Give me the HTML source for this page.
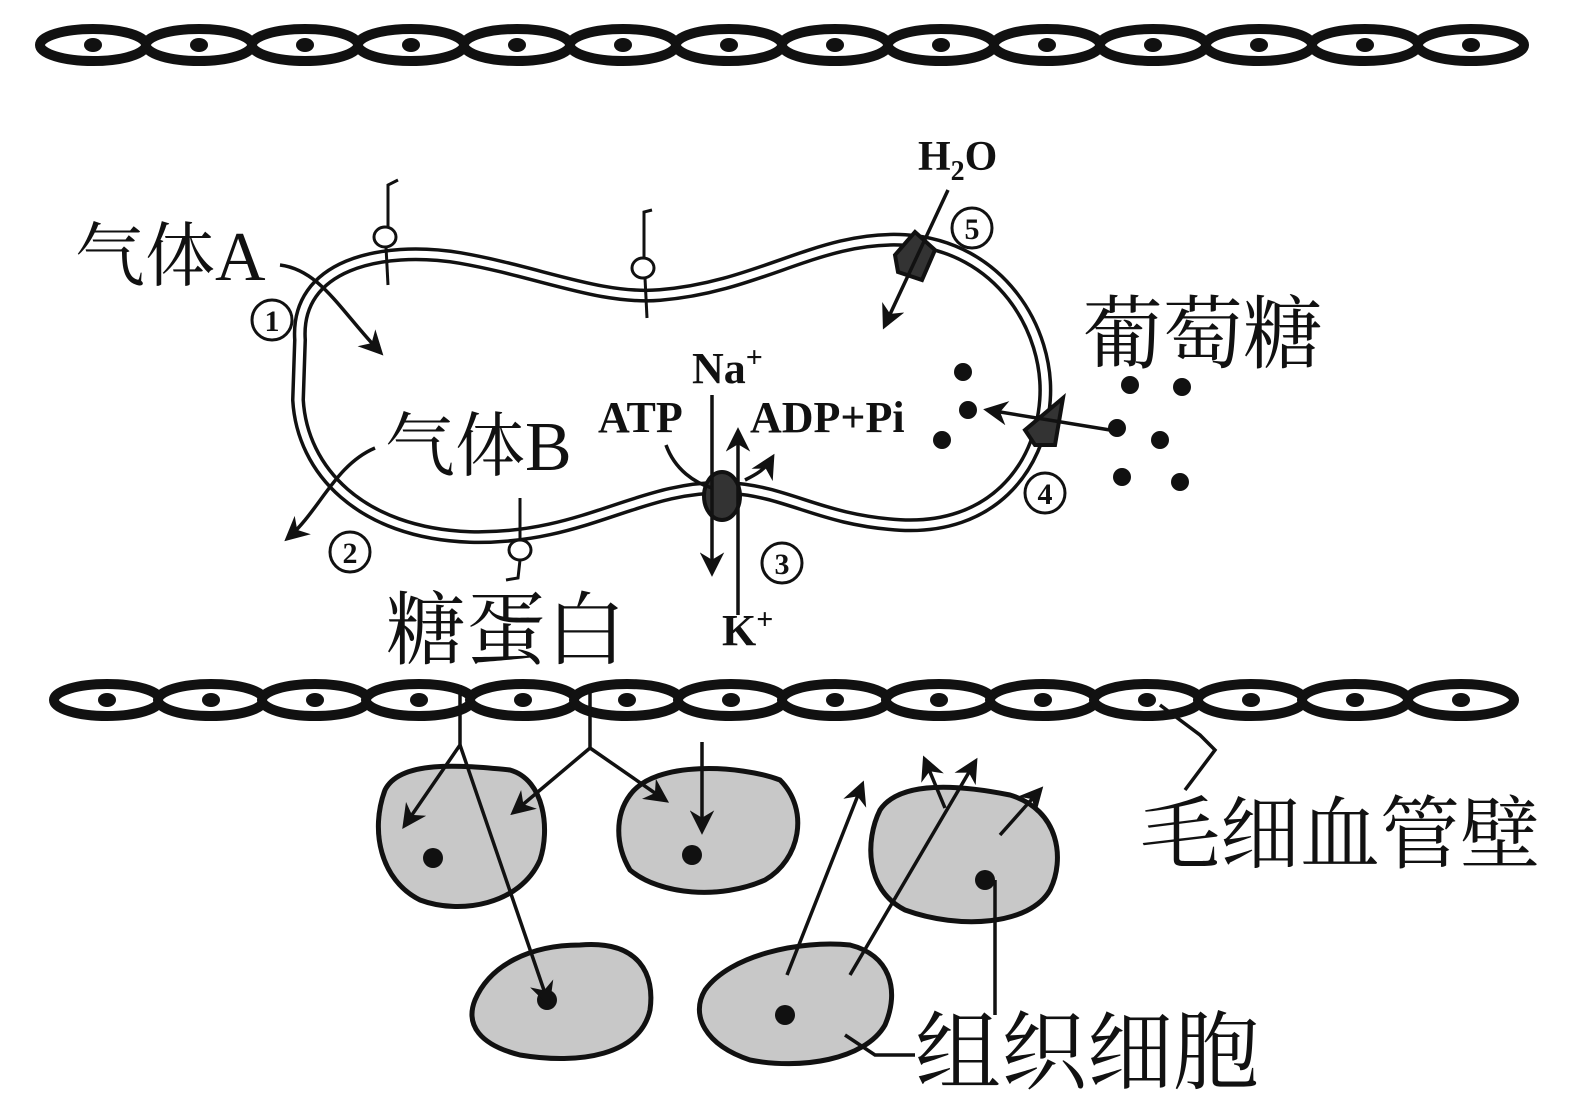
<!DOCTYPE html>
<html><head><meta charset="utf-8"><style>
body{margin:0;background:#fff}
svg{display:block}
.cn{font-family:"Liberation Serif","Noto Serif CJK SC",serif;fill:#111}
.b{font-family:"Liberation Serif",serif;font-weight:bold;fill:#111}
</style></head><body>
<svg width="1572" height="1105" viewBox="0 0 1572 1105" xmlns="http://www.w3.org/2000/svg">
<defs>
<marker id="ah" viewBox="0 0 10 10" refX="8" refY="5" markerWidth="7" markerHeight="7" orient="auto"><path d="M0,0 L10,5 L0,10 L3,5 Z" fill="#111"/></marker>
<g id="ec"><ellipse cx="0" cy="0" rx="53" ry="16" fill="#fff" stroke="#111" stroke-width="10"/><ellipse cx="0" cy="0" rx="9" ry="7" fill="#111"/></g>
<g id="num"><circle cx="0" cy="0" r="20" fill="#fff" stroke="#111" stroke-width="3"/></g>
</defs>
<g>
<use href="#ec" x="93" y="45"/><use href="#ec" x="199" y="45"/><use href="#ec" x="305" y="45"/><use href="#ec" x="411" y="45"/><use href="#ec" x="517" y="45"/><use href="#ec" x="623" y="45"/><use href="#ec" x="729" y="45"/><use href="#ec" x="835" y="45"/><use href="#ec" x="941" y="45"/><use href="#ec" x="1047" y="45"/><use href="#ec" x="1153" y="45"/><use href="#ec" x="1259" y="45"/><use href="#ec" x="1365" y="45"/><use href="#ec" x="1471" y="45"/>
</g>
<g>
<use href="#ec" x="107" y="700"/><use href="#ec" x="211" y="700"/><use href="#ec" x="315" y="700"/><use href="#ec" x="419" y="700"/><use href="#ec" x="523" y="700"/><use href="#ec" x="627" y="700"/><use href="#ec" x="731" y="700"/><use href="#ec" x="835" y="700"/><use href="#ec" x="939" y="700"/><use href="#ec" x="1043" y="700"/><use href="#ec" x="1147" y="700"/><use href="#ec" x="1251" y="700"/><use href="#ec" x="1355" y="700"/><use href="#ec" x="1461" y="700"/>
</g>
<!-- membrane -->
<path d="M300,340 C295,265 380,245 460,258 C540,272 600,300 660,295 C760,287 820,235 905,240 C1000,246 1050,330 1045,400 C1040,470 990,530 900,525 C820,520 790,492 730,488 C640,484 585,540 470,537 C360,533 302,470 298,400 Z" fill="none" stroke="#111" stroke-width="14"/>
<path d="M300,340 C295,265 380,245 460,258 C540,272 600,300 660,295 C760,287 820,235 905,240 C1000,246 1050,330 1045,400 C1040,470 990,530 900,525 C820,520 790,492 730,488 C640,484 585,540 470,537 C360,533 302,470 298,400 Z" fill="none" stroke="#fff" stroke-width="7"/>
<!-- tissue cells -->
<g fill="#c8c8c8" stroke="#111" stroke-width="5">
<path d="M385,790 C400,760 460,765 510,770 C545,780 550,830 540,860 C520,905 460,915 420,900 C380,880 370,830 385,790 Z"/>
<path d="M630,795 C655,760 740,765 780,780 C810,810 800,860 765,880 C720,900 660,895 630,870 C615,845 615,815 630,795 Z"/>
<path d="M880,810 C900,780 960,785 1010,795 C1060,810 1065,860 1050,890 C1030,925 960,930 905,910 C865,890 865,840 880,810 Z"/>
<path d="M475,1000 C490,965 530,945 580,945 C640,940 655,975 650,1010 C640,1055 580,1065 520,1055 C480,1045 465,1025 475,1000 Z"/>
<path d="M705,990 C730,955 800,940 850,945 C890,955 900,990 885,1025 C865,1060 800,1070 750,1060 C705,1045 690,1015 705,990 Z"/>
</g>
<g fill="#111"><circle cx="433" cy="858" r="10"/><circle cx="692" cy="855" r="10"/><circle cx="985" cy="880" r="10"/><circle cx="547" cy="1000" r="10"/><circle cx="785" cy="1015" r="10"/></g>
<!-- glycoproteins -->
<g stroke="#111" stroke-width="3" fill="#fff">
<path d="M388,230 L388,185 L398,180" fill="none"/><path d="M386,247 L388,285" fill="none"/><ellipse cx="385" cy="237" rx="11" ry="10"/>
<path d="M644,265 L644,212 L652,210" fill="none"/><path d="M645,278 L647,318" fill="none"/><ellipse cx="643" cy="268" rx="11" ry="10"/>
<path d="M520,498 L520,540" fill="none"/><path d="M520,560 L518,578 L506,580" fill="none"/><ellipse cx="520" cy="550" rx="11" ry="10"/>
</g>
<!-- proteins -->
<path d="M895,255 L915,232 L935,250 L922,280 L898,272 Z" fill="#333" stroke="#111" stroke-width="4"/>
<ellipse cx="722" cy="496" rx="18" ry="24" fill="#333" stroke="#111" stroke-width="4"/>
<path d="M1025,430 L1063,398 L1055,445 L1035,445 Z" fill="#333" stroke="#111" stroke-width="4"/>
<!-- arrows -->
<g stroke="#111" stroke-width="3.5" fill="none" marker-end="url(#ah)">
<path d="M280,265 C320,270 340,310 380,352"/>
<path d="M375,448 C335,465 320,510 288,538"/>
<path d="M948,190 L885,325"/>
<path d="M1110,430 L988,410"/>
<path d="M712,520 L712,572"/>
<path d="M738,500 L738,432"/>
<path d="M745,480 C755,475 765,470 772,458"/>
<path d="M460,685 L460,745 L405,825"/>
<path d="M460,745 L548,1002"/>
<path d="M590,690 L590,748 L514,812"/>
<path d="M590,748 L665,800"/>
<path d="M702,742 L702,830"/>
<path d="M787,975 L862,785"/>
<path d="M850,975 L975,762"/>
<path d="M945,808 L925,760"/>
<path d="M1000,835 L1040,790"/>
</g>
<g stroke="#111" stroke-width="3.5" fill="none">
<path d="M712,395 L712,520"/>
<path d="M738,500 L738,615"/>
<path d="M666,445 C675,470 695,483 712,488"/>
<path d="M1160,705 L1200,735 L1215,750 L1185,790"/>
<path d="M915,1055 L875,1055 L845,1035"/>
<path d="M995,880 L995,1015"/>
</g>
<g fill="#111"><circle cx="963" cy="372" r="9"/><circle cx="968" cy="410" r="9"/><circle cx="942" cy="440" r="9"/><circle cx="1130" cy="385" r="9"/><circle cx="1182" cy="387" r="9"/><circle cx="1117" cy="428" r="9"/><circle cx="1160" cy="440" r="9"/><circle cx="1122" cy="477" r="9"/><circle cx="1180" cy="482" r="9"/></g>
<!-- labels -->
<text class="cn" x="75" y="280" font-size="70">气体A</text>
<text class="cn" x="385" y="470" font-size="70">气体B</text>
<text class="cn" x="1083" y="362" font-size="80">葡萄糖</text>
<text class="cn" x="386" y="658" font-size="80">糖蛋白</text>
<text class="cn" x="1140" y="862" font-size="80">毛细血管壁</text>
<text class="cn" x="915" y="1082" font-size="86">组织细胞</text>
<text class="b" x="918" y="170" font-size="42">H<tspan font-size="28" dy="10">2</tspan><tspan dy="-10">O</tspan></text>
<text class="b" x="692" y="383" font-size="44">Na<tspan font-size="30" dy="-16">+</tspan></text>
<text class="b" x="598" y="432" font-size="44">ATP</text>
<text class="b" x="750" y="432" font-size="44">ADP+Pi</text>
<text class="b" x="722" y="645" font-size="44">K<tspan font-size="30" dy="-16">+</tspan></text>
<use href="#num" x="272" y="320"/><use href="#num" x="350" y="552"/><use href="#num" x="782" y="563"/><use href="#num" x="1045" y="493"/><use href="#num" x="972" y="228"/>
<g class="b" font-size="30" text-anchor="middle"><text x="272" y="331">1</text><text x="350" y="563">2</text><text x="782" y="574">3</text><text x="1045" y="504">4</text><text x="972" y="239">5</text></g>
</svg>
</body></html>
